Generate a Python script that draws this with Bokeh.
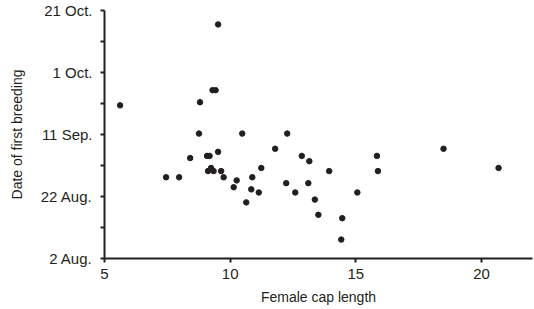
from bokeh.plotting import figure
from bokeh.models import FixedTicker, Range1d
from bokeh.embed import file_html
from bokeh.resources import INLINE

# Female cap length
cap_length = [5.62, 9.52, 9.30, 9.42, 8.80, 8.76, 10.48, 12.27, 11.79, 9.08, 9.18,
              9.52, 8.41, 12.85, 13.15, 11.24, 13.94, 15.84, 15.88, 18.49, 20.68,
              10.88, 12.23, 13.11, 10.84, 11.14, 12.59, 15.06, 10.64, 13.37, 13.51,
              14.46, 14.42, 7.45, 7.97, 9.12, 9.24, 9.34, 9.64, 9.74, 10.26, 10.14]
# Date of first breeding, days after 2 Aug.
breeding_day = [49.4, 75.5, 54.3, 54.3, 50.4, 40.3, 40.3, 40.3, 35.4, 33.1, 33.1,
                34.4, 32.4, 33.1, 31.4, 29.2, 28.2, 33.1, 28.2, 35.4, 29.2,
                26.2, 24.3, 24.3, 22.3, 21.3, 21.3, 21.3, 18.1, 19.0, 14.1,
                13.0, 6.1, 26.2, 26.2, 28.2, 29.2, 28.2, 28.2, 26.2, 25.2, 23.0]

x_ticks = [5, 10, 15, 20]
y_ticks = [0, 20, 40, 60, 80]
y_minor = [10, 30, 50, 70]
y_tick_labels = ["2 Aug.", "22 Aug.", "11 Sep.", "1 Oct.", "21 Oct."]

ink = "#231f20"
font = "Liberation Sans"

p = figure(width=533, height=307, output_backend="svg", toolbar_location=None,
           x_range=Range1d(5, 22.03), y_range=Range1d(0, 80),
           min_border_left=104, min_border_right=1, min_border_top=10,
           min_border_bottom=43)
p.outline_line_color = None
p.xgrid.visible = False
p.ygrid.visible = False
p.background_fill_color = "white"

p.scatter(cap_length, breeding_day, size=5.5, color=ink, line_color=ink)

p.xaxis.ticker = FixedTicker(ticks=x_ticks, minor_ticks=[])
p.yaxis.ticker = FixedTicker(ticks=y_ticks, minor_ticks=y_minor)
p.yaxis.major_label_overrides = {t: l for t, l in zip(y_ticks, y_tick_labels)}
p.xaxis.axis_label = "Female cap length"
p.yaxis.axis_label = "Date of first breeding"

for ax in (p.xaxis, p.yaxis):
    ax.axis_line_color = ink
    ax.axis_line_width = 2
    ax.major_tick_line_color = ink
    ax.major_tick_line_width = 2
    ax.minor_tick_line_color = ink
    ax.minor_tick_line_width = 2
    ax.major_tick_in = 0
    ax.major_tick_out = 4
    ax.minor_tick_in = 0
    ax.minor_tick_out = 4
    ax.major_label_text_font = font
    ax.major_label_text_font_size = "15px"
    ax.major_label_text_color = ink
    ax.axis_label_text_font = font
    ax.axis_label_text_font_size = "14px"
    ax.axis_label_text_font_style = "normal"
    ax.axis_label_text_color = ink

p.xaxis.major_label_standoff = 6
p.yaxis.major_label_standoff = 8
p.xaxis.axis_label_standoff = 7
p.yaxis.axis_label_standoff = 13

open("out.html", "w").write(file_html(p, INLINE))
